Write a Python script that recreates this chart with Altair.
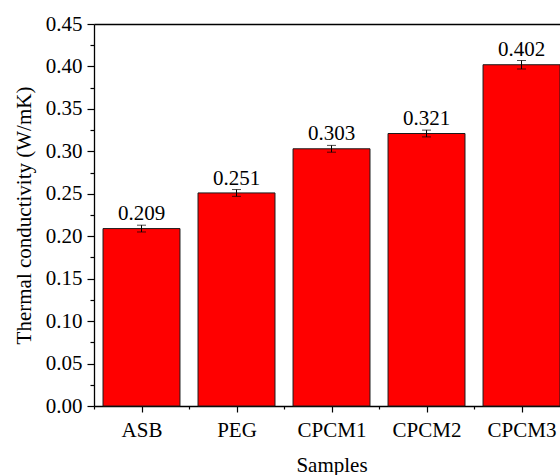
import json
import altair as alt
import pandas as pd

# Thermal conductivity of the samples (W/mK) with measurement error
samples = ["ASB", "PEG", "CPCM1", "CPCM2", "CPCM3"]
conductivity = [0.209, 0.251, 0.303, 0.321, 0.402]
error = [0.004, 0.004, 0.004, 0.004, 0.005]

y_ticks = [round(0.05 * i, 2) for i in range(10)]
y_minor = [round(0.025 + 0.05 * i, 3) for i in range(9)]
x_ticks = [1, 2, 3, 4, 5]
x_minor = [0.5, 1.5, 2.5, 3.5, 4.5]

df = pd.DataFrame({
    "sample": samples,
    "idx": list(range(1, len(samples) + 1)),
    "value": conductivity,
    "err": error,
})

FONT = "'Times New Roman', 'Liberation Serif', Times, serif"
HALF = 0.405  # half bar width, in category steps

xscale = alt.Scale(domain=[0.5, 5.405], nice=False, zero=False)
yscale = alt.Scale(domain=[0, 0.45], nice=False, zero=True)

label_expr = json.dumps(samples) + "[datum.value - 1]"

base = alt.Chart(df).transform_calculate(
    lo="datum.idx - %f" % HALF,
    hi="datum.idx + %f" % HALF,
    elo="datum.value - datum.err",
    ehi="datum.value + datum.err",
)

bars = base.mark_bar(color="#FF0000", stroke="#1a1a1a", strokeWidth=1).encode(
    x=alt.X("lo:Q", scale=xscale,
            axis=alt.Axis(orient="bottom", values=x_ticks, labelExpr=label_expr,
                          tickSize=6, labelPadding=24, labelBaseline="alphabetic",
                          labelFontSize=21, grid=False,
                          title="Samples", titleFontSize=21, titleFontWeight="normal",
                          titleX=237.5, titleY=65, titleBaseline="alphabetic",
                          titleAlign="center")),
    x2="hi:Q",
    y=alt.Y("value:Q", scale=yscale,
            axis=alt.Axis(orient="left", values=y_ticks, format=".2f", tickSize=7,
                          labelPadding=5, labelFontSize=21, grid=False,
                          title="Thermal conductivity (W/mK)", titleFontSize=21,
                          titleFontWeight="normal", titleAngle=270, titleX=-64,
                          titleY=191, titleAlign="center",
                          titleBaseline="alphabetic")),
    y2=alt.datum(0),
)

# error bar stems; this layer also carries the minor ticks
stems = base.mark_rule(color="black", strokeWidth=1).encode(
    x=alt.X("idx:Q", scale=xscale,
            axis=alt.Axis(orient="bottom", values=x_minor, labels=False, tickSize=3,
                          domain=False, grid=False, title=None)),
    y=alt.Y("elo:Q", scale=yscale,
            axis=alt.Axis(orient="left", values=y_minor, labels=False, tickSize=4,
                          domain=False, grid=False, title=None)),
    y2="ehi:Q",
)

# error bar caps; this layer draws the top frame line
caps_top = base.mark_tick(color="black", thickness=1, size=9, orient="horizontal").encode(
    x=alt.X("idx:Q", scale=xscale,
            axis=alt.Axis(orient="top", labels=False, ticks=False, grid=False, title=None)),
    y=alt.Y("ehi:Q", scale=yscale, axis=None),
)
caps_bottom = base.mark_tick(color="black", thickness=1, size=9, orient="horizontal").encode(
    x=alt.X("idx:Q", scale=xscale, axis=None),
    y=alt.Y("elo:Q", scale=yscale, axis=None),
)

labels = base.mark_text(font=FONT, fontSize=21, baseline="alphabetic", dy=-5,
                        color="black").encode(
    x=alt.X("idx:Q", scale=xscale, axis=None),
    y=alt.Y("ehi:Q", scale=yscale, axis=None),
    text=alt.Text("value:Q", format=".3f"),
)

chart = alt.layer(bars, stems, caps_top, caps_bottom, labels).resolve_axis(
    x="independent", y="independent"
).properties(
    width=466,
    height=382,
    padding={"left": 94, "top": 24, "right": 0, "bottom": 69},
    autosize=alt.AutoSizeParams(type="none"),
    background="white",
).configure_view(stroke=None).configure_axis(
    labelFont=FONT, titleFont=FONT, labelColor="black", titleColor="black",
    domainColor="black", tickColor="black", domainWidth=1.3, tickWidth=1.2,
).configure_text(font=FONT)

chart.save("out.html", embed_options={"renderer": "svg", "actions": False})
